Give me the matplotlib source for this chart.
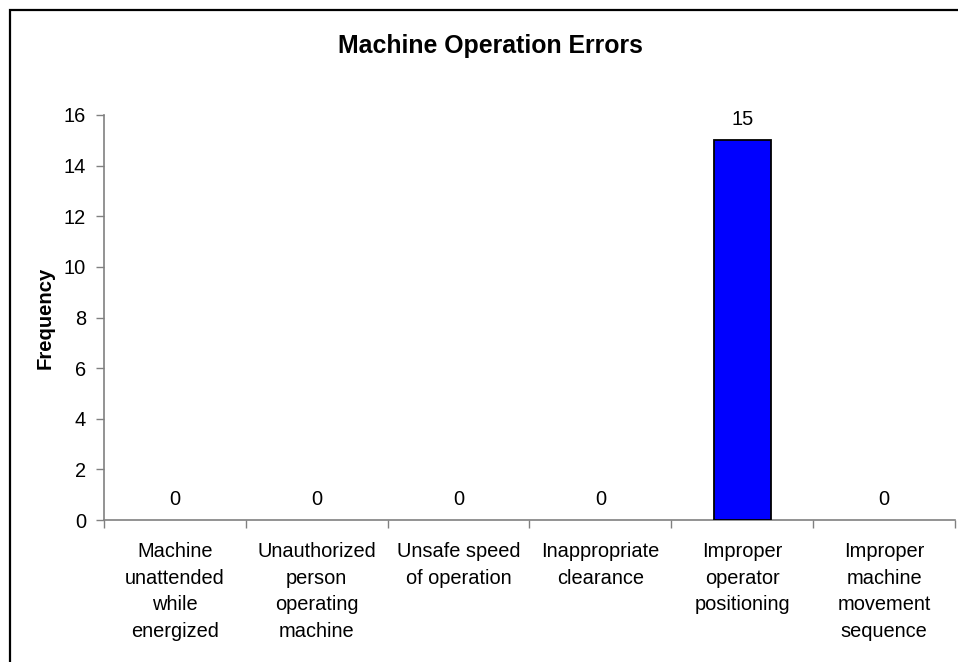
import matplotlib
matplotlib.use("Agg")
import matplotlib.pyplot as plt
from matplotlib.patches import Rectangle
import numpy as np

plt.rcParams['font.family'] = ['Liberation Sans', 'DejaVu Sans']

categories = [
    "Machine\nunattended\nwhile\nenergized",
    "Unauthorized\nperson\noperating\nmachine",
    "Unsafe speed\nof operation",
    "Inappropriate\nclearance",
    "Improper\noperator\npositioning",
    "Improper\nmachine\nmovement\nsequence",
]
values = [0, 0, 0, 0, 15, 0]
yticks = [0, 2, 4, 6, 8, 10, 12, 14, 16]
title = "Machine Operation Errors"
ylabel = "Frequency"

W, H = 958, 662
fig = plt.figure(figsize=(W / 100, H / 100), dpi=100)
fig.patch.set_facecolor("white")

ax = fig.add_axes([104 / W, 1 - 520 / H, (955 - 104) / W, (520 - 115) / H])

x = np.arange(len(categories))
bars = ax.bar(x, values, width=0.40, color="#0000FF", edgecolor="black", linewidth=1.3, zorder=3)
for b, v in zip(bars, values):
    if v == 0:
        b.set_linewidth(0)

ax.set_xlim(-0.5, len(categories) - 0.5)
ax.set_ylim(0, 16)
ax.set_yticks(yticks)
ax.set_yticklabels([str(t) for t in yticks], fontsize=14.4)

ax.set_xticks(x)
ax.set_xticklabels(categories, fontsize=14.4, linespacing=1.5, va="top")
ax.tick_params(axis="x", which="major", length=0, pad=16)
ax.set_xticks(np.arange(-0.5, len(categories)), minor=True)
ax.tick_params(axis="x", which="minor", length=6, width=1, color="#808080", direction="out")
ax.tick_params(axis="y", which="major", length=6, width=1, color="#808080", direction="out", pad=7)

for s in ["top", "right"]:
    ax.spines[s].set_visible(False)
for s in ["left", "bottom"]:
    ax.spines[s].set_color("#808080")
    ax.spines[s].set_linewidth(1.2)

for xi, v in zip(x, values):
    ax.annotate(str(v), (xi, v), xytext=(0, 15), textcoords="offset points",
                ha="center", va="center", fontsize=14.4)

fig.text(490 / W, 1 - 46 / H, title, ha="center", va="center", fontsize=17.9, fontweight="bold")
fig.text(45 / W, 1 - 318 / H, ylabel, ha="center", va="center", rotation=90,
         fontsize=14.6, fontweight="bold")

fig.add_artist(Rectangle((10 / W, -0.1), 1.2, 1.1 - 10 / H, transform=fig.transFigure,
                         fill=False, edgecolor="black", linewidth=1.6))

fig.savefig("out.png", dpi=100)
